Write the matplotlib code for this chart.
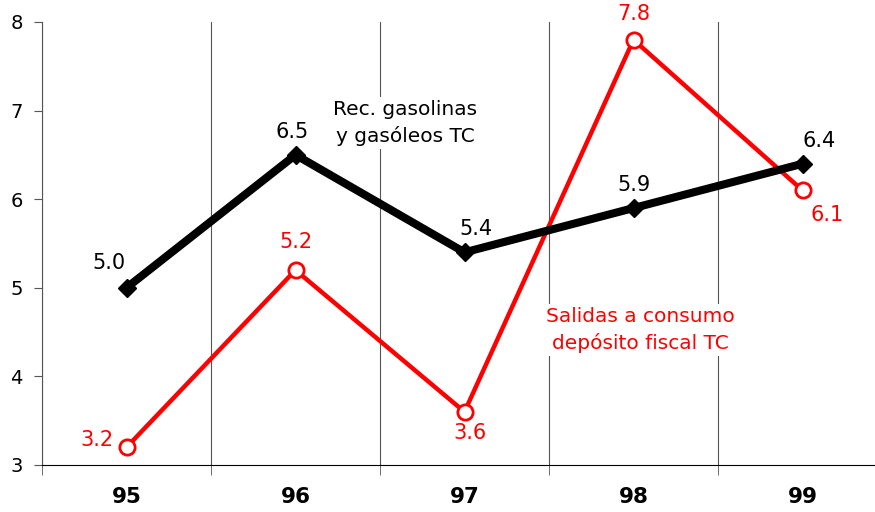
import matplotlib
matplotlib.use("Agg")
import matplotlib.pyplot as plt
import numpy as np

years = ["95", "96", "97", "98", "99"]
rec_gasolinas = [5.0, 6.5, 5.4, 5.9, 6.4]
salidas_consumo = [3.2, 5.2, 3.6, 7.8, 6.1]

# label offsets in pixels (dx, dy)
black_off = [(-18, 25), (-3, 23), (11, 23), (0, 23), (17, 23)]
red_off = [(-30, 7), (0, 28), (5, -21), (0, 26), (25, -25)]

plt.rcParams['font.family'] = ['DejaVu Sans']

fig = plt.figure(figsize=(8.75, 5.12), dpi=100)
ax = fig.add_axes([42 / 875, 1 - 465 / 512, 845 / 875, 443 / 512])

x = np.arange(len(years))

ax.plot(x, salidas_consumo, color="red", lw=3.2, marker="o", ms=11,
        mfc="white", mec="red", mew=2, zorder=3)
ax.plot(x, rec_gasolinas, color="black", lw=5.8, marker="D", ms=9,
        mfc="black", mec="black", zorder=4)

for xi, v, (dx, dy) in zip(x, rec_gasolinas, black_off):
    ax.annotate(f"{v:.1f}", (xi, v), xytext=(dx, dy), textcoords="offset pixels",
                ha="center", va="center", fontsize=15, color="black", zorder=5)
for xi, v, (dx, dy) in zip(x, salidas_consumo, red_off):
    ax.annotate(f"{v:.1f}", (xi, v), xytext=(dx, dy), textcoords="offset pixels",
                ha="center", va="center", fontsize=15, color="red", zorder=5)

ax.text(1.65, 6.86, "Rec. gasolinas\ny gasóleos TC", ha="center", va="center",
        fontsize=14.5, color="black", linespacing=1.4,
        bbox=dict(facecolor="white", edgecolor="none", pad=2), zorder=2)
ax.text(3.04, 4.52, "Salidas a consumo\ndepósito fiscal TC", ha="center", va="center",
        fontsize=14.5, color="red", linespacing=1.45,
        bbox=dict(facecolor="white", edgecolor="none", pad=2), zorder=2)

ax.set_xlim(-0.5, 4.5)
ax.set_ylim(3, 8)
ax.set_yticks([3, 4, 5, 6, 7, 8])
ax.tick_params(axis="y", labelsize=14, length=6, color="#555555", pad=8)

ax.set_xticks(x)
ax.set_xticklabels(years, fontsize=15.5, fontweight="bold")
ax.tick_params(axis="x", which="major", length=0, pad=16)
ax.set_xticks(np.arange(-0.5, 5, 1), minor=True)
ax.tick_params(axis="x", which="minor", length=7, color="#555555")
ax.grid(axis="x", which="minor", color="#555555", lw=0.8, zorder=1)

ax.spines["top"].set_visible(False)
ax.spines["right"].set_visible(False)
ax.spines["left"].set_color("#555555")
ax.spines["bottom"].set_color("black")

fig.savefig("out.png", dpi=100)
